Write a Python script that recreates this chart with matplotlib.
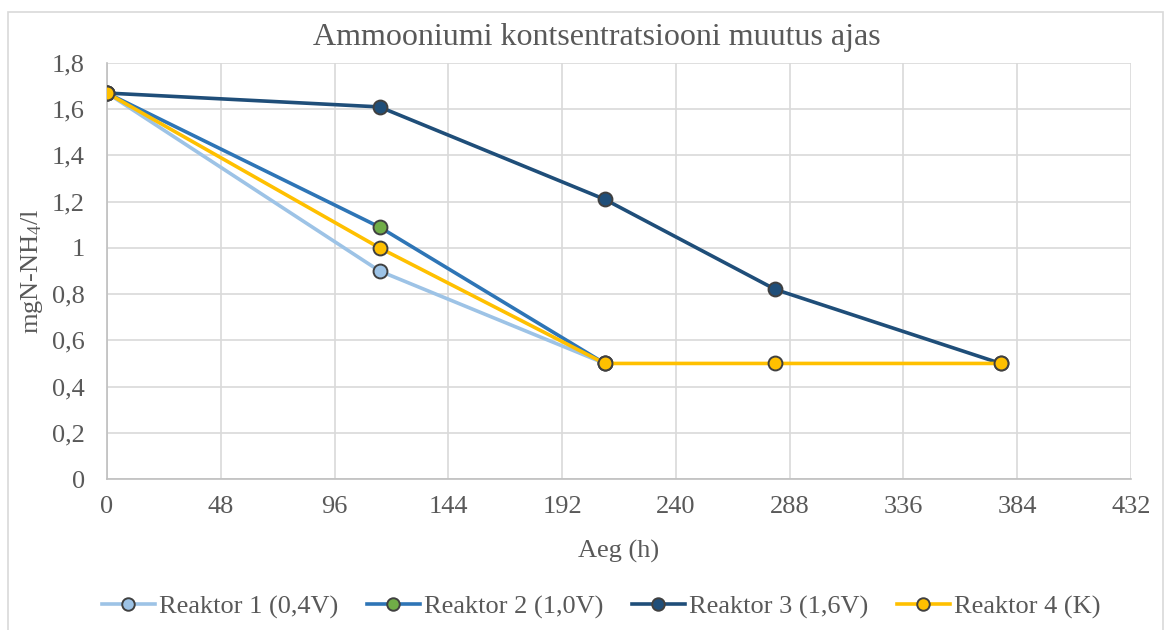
import matplotlib
matplotlib.use("Agg")
from matplotlib import pyplot as plt
from matplotlib.ticker import FuncFormatter, MultipleLocator
from matplotlib.patches import Rectangle

plt.rcParams['font.family'] = ['Liberation Serif', 'DejaVu Serif']
plt.rcParams['mathtext.fontset'] = 'custom'
plt.rcParams['mathtext.rm'] = 'Liberation Serif'
plt.rcParams['mathtext.it'] = 'Liberation Serif:italic'

# time points (h)
hours = [0, 115, 210, 282, 377]
hours_r1 = [0, 115, 210]
hours_r2 = [0, 115, 210]
hours_r4 = [0, 115, 210, 282, 377]

reaktor1 = [1.67, 0.90, 0.50]
reaktor2 = [1.67, 1.09, 0.50]
reaktor3 = [1.67, 1.61, 1.21, 0.82, 0.50]
reaktor4 = [1.67, 1.00, 0.50, 0.50, 0.50]

labels = ["Reaktor 1 (0,4V)", "Reaktor 2 (1,0V)", "Reaktor 3 (1,6V)", "Reaktor 4 (K)"]

text_col = "#595959"
grid_col = "#D9D9D9"
edge_col = "#404040"


def comma_fmt(v, pos):
    v = round(v, 1)
    if v == int(v):
        return "%d" % v
    return ("%.1f" % v).replace(".", ",")


fig = plt.figure(figsize=(11.71, 6.30), dpi=100)
ax = fig.add_axes([107/1171, 1 - 479/630, (1131-107)/1171, (479-63)/630])

# chart border
fig.patches.append(Rectangle((8/1171, -0.05), (1163-8)/1171, 1 - 12/630 + 0.05,
                             transform=fig.transFigure, fill=False,
                             edgecolor=grid_col, linewidth=1.2))

lw = 2.6
ms = 10
ax.plot(hours_r1, reaktor1, color="#9DC3E6", lw=lw, marker="o", ms=ms,
        mfc="#9DC3E6", mec=edge_col, mew=1.4, label=labels[0], zorder=3)
ax.plot(hours_r2, reaktor2, color="#2E75B6", lw=lw, marker="o", ms=ms,
        mfc="#70AD47", mec=edge_col, mew=1.4, label=labels[1], zorder=4)
ax.plot(hours, reaktor3, color="#1F4E79", lw=lw, marker="o", ms=ms,
        mfc="#1F4E79", mec=edge_col, mew=1.4, label=labels[2], zorder=5)
ax.plot(hours_r4, reaktor4, color="#FFC000", lw=lw, marker="o", ms=ms,
        mfc="#FFC000", mec=edge_col, mew=1.4, label=labels[3], zorder=6)

ax.set_xlim(0, 432)
ax.set_ylim(0, 1.8)
ax.xaxis.set_major_locator(MultipleLocator(48))
ax.yaxis.set_major_locator(MultipleLocator(0.2))
ax.yaxis.set_major_formatter(FuncFormatter(comma_fmt))

ax.grid(True, color=grid_col, linewidth=1.2)
ax.set_axisbelow(True)
for s in ["top", "right"]:
    ax.spines[s].set_visible(False)
for s in ["left", "bottom"]:
    ax.spines[s].set_color("#BFBFBF")
    ax.spines[s].set_linewidth(1.2)
ax.tick_params(length=0, labelsize=19, colors=text_col)
ax.tick_params(axis="y", pad=16)
ax.tick_params(axis="x", pad=12)

ax.set_xlabel("Aeg (h)", fontsize=19, color=text_col, labelpad=16)
ax.set_ylabel(r"mgN-NH$_4$/l", fontsize=19, color=text_col, labelpad=5)
fig.text(597/1171, 1 - 38/630, "Ammooniumi kontsentratsiooni muutus ajas",
         ha="center", va="center", fontsize=23, color=text_col)

leg = fig.legend(loc="center", bbox_to_anchor=(601/1171, 1 - 607/630), ncol=4,
                 frameon=False, fontsize=19, handlelength=2.0,
                 columnspacing=1.1, handletextpad=0.15, markerscale=0.9)
for t in leg.get_texts():
    t.set_color(text_col)

fig.savefig("out.png", dpi=100)
